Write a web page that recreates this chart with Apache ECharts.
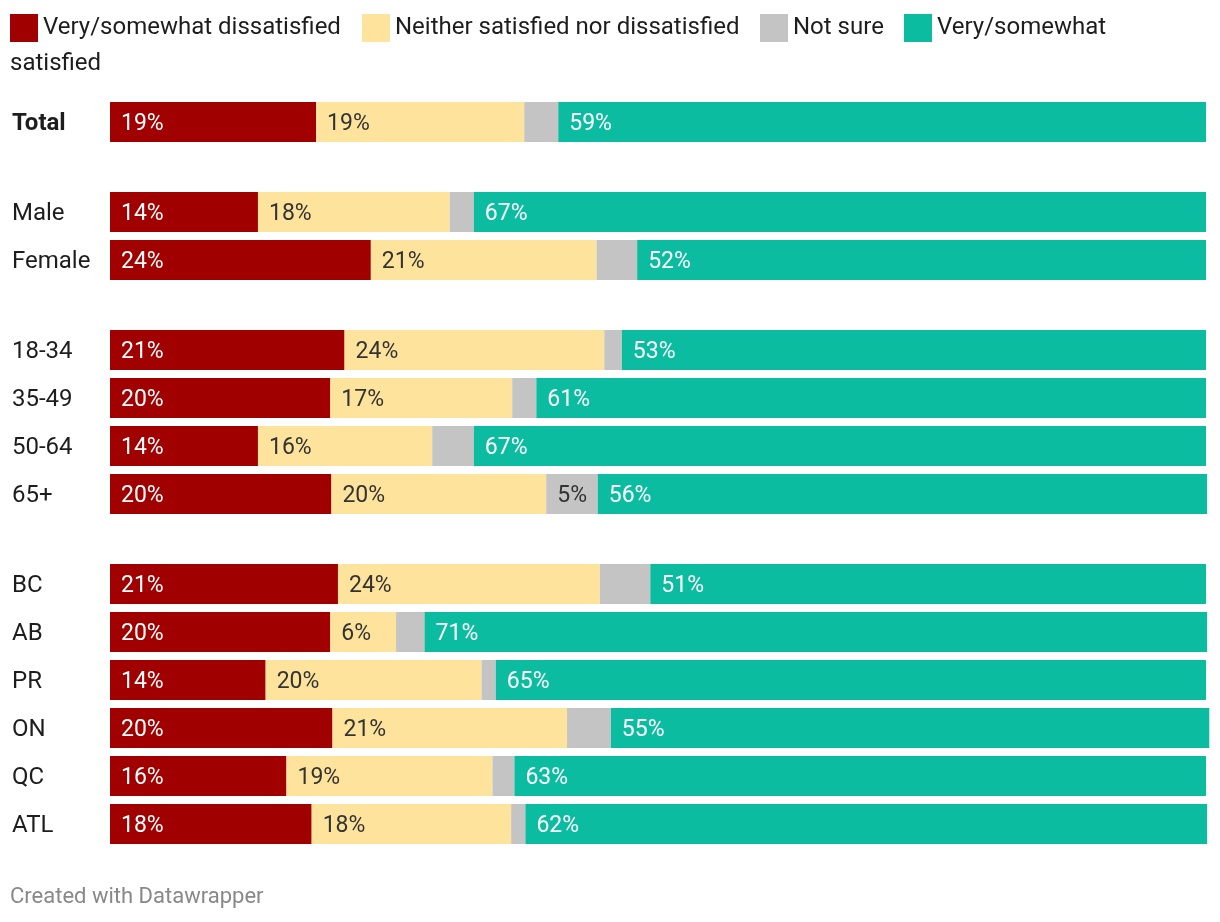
<!DOCTYPE html>
<html>
<head>
<meta charset="utf-8">
<script src="https://cdn.jsdelivr.net/npm/echarts@6/dist/echarts.min.js"></script>
<style>
html,body{margin:0;padding:0;background:#fff;}
#chart{width:1220px;height:922px;}
</style>
</head>
<body>
<div id="chart"></div>
<script>
// Categories by group
const catTotal = ['Total'];
const catGender = ['Male', 'Female'];
const catAge = ['18-34', '35-49', '50-64', '65+'];
const catRegion = ['BC', 'AB', 'PR', 'ON', 'QC', 'ATL'];

// Series values (%), in order: Total, Male, Female, 18-34, 35-49, 50-64, 65+, BC, AB, PR, ON, QC, ATL
const dissatisfied = [18.8, 13.5, 23.8, 21.4, 20.1, 13.5, 20.2, 20.8, 20.1, 14.2, 20.3, 16.1, 18.4];
const neither      = [19.0, 17.5, 20.6, 23.7, 16.6, 15.9, 19.6, 23.9, 6.0, 19.7, 21.4, 18.8, 18.2];
const notSure      = [3.1, 2.2, 3.7, 1.6, 2.2, 3.8, 4.7, 4.6, 2.6, 1.3, 4.0, 2.0, 1.3];
const satisfied    = [59.1, 66.8, 51.9, 53.3, 61.1, 66.8, 55.6, 50.7, 71.4, 64.8, 54.6, 63.1, 62.2];

const seriesNames = ['Very/somewhat dissatisfied', 'Neither satisfied nor dissatisfied', 'Not sure', 'Very/somewhat satisfied'];
const colors = ['#a00000', '#fee39c', '#c4c4c4', '#0bbca0'];
const labelColors = ['#ffffff', '#333333', '#333333', '#ffffff'];
const values = [dissatisfied, neither, notSure, satisfied];

const groups = [
  { cats: catTotal, start: 0, top: 98 },
  { cats: catGender, start: 1, top: 188 },
  { cats: catAge, start: 3, top: 326 },
  { cats: catRegion, start: 7, top: 560 }
];
const rowH = 48;
const FONT = 'Roboto, "Noto Sans", sans-serif';

const grid = [], xAxis = [], yAxis = [], series = [];
groups.forEach((g, gi) => {
  grid.push({ left: 110, width: 1096, top: g.top, height: g.cats.length * rowH });
  xAxis.push({ gridIndex: gi, type: 'value', min: 0, max: 100, show: false });
  yAxis.push({
    gridIndex: gi, type: 'category', data: g.cats, inverse: true,
    axisLine: { show: false }, axisTick: { show: false }, splitLine: { show: false },
    axisLabel: {
      align: 'left', margin: 98,
      formatter: v => '{c|' + v + '}',
      rich: {
        c: {
          fontSize: 24, color: '#1d1d1d', fontFamily: FONT,
          fontWeight: gi === 0 ? 'bold' : 'normal', padding: [4, 0, 0, 0]
        }
      }
    }
  });
  seriesNames.forEach((name, si) => {
    series.push({
      name: name, type: 'bar', stack: 'g' + gi, xAxisIndex: gi, yAxisIndex: gi,
      barWidth: 40, clip: false,
      data: values[si].slice(g.start, g.start + g.cats.length),
      itemStyle: { color: colors[si] },
      label: {
        show: true, position: 'insideLeft', distance: 11, offset: [0, 2],
        color: labelColors[si], fontSize: 23, fontFamily: FONT,
        formatter: p => (si === 2 && p.value < 4.7) ? '' : Math.round(p.value) + '%'
      },
      emphasis: { disabled: true }
    });
  });
});

const legendLefts = [10, 362, 760, 904];
const legend = seriesNames.map((n, i) => ({
  data: [n], left: legendLefts[i], top: 14, padding: 0,
  icon: 'rect', itemWidth: 28, itemHeight: 28, selectedMode: false,
  textStyle: { fontSize: 24, color: '#1d1d1d', fontFamily: FONT },
  formatter: name => name === 'Very/somewhat satisfied' ? 'Very/somewhat' : name
}));

const chart = echarts.init(document.getElementById('chart'));
chart.setOption({
  animation: false,
  textStyle: { fontFamily: FONT },
  legend: legend,
  grid: grid, xAxis: xAxis, yAxis: yAxis, series: series,
  graphic: [
    { type: 'text', left: 10, top: 52, style: { text: 'satisfied', fontSize: 24, fill: '#1d1d1d', fontFamily: FONT } },
    { type: 'text', left: 10, top: 886, style: { text: 'Created with Datawrapper', fontSize: 22, fill: '#888888', fontFamily: FONT } }
  ]
});
</script>
</body>
</html>
